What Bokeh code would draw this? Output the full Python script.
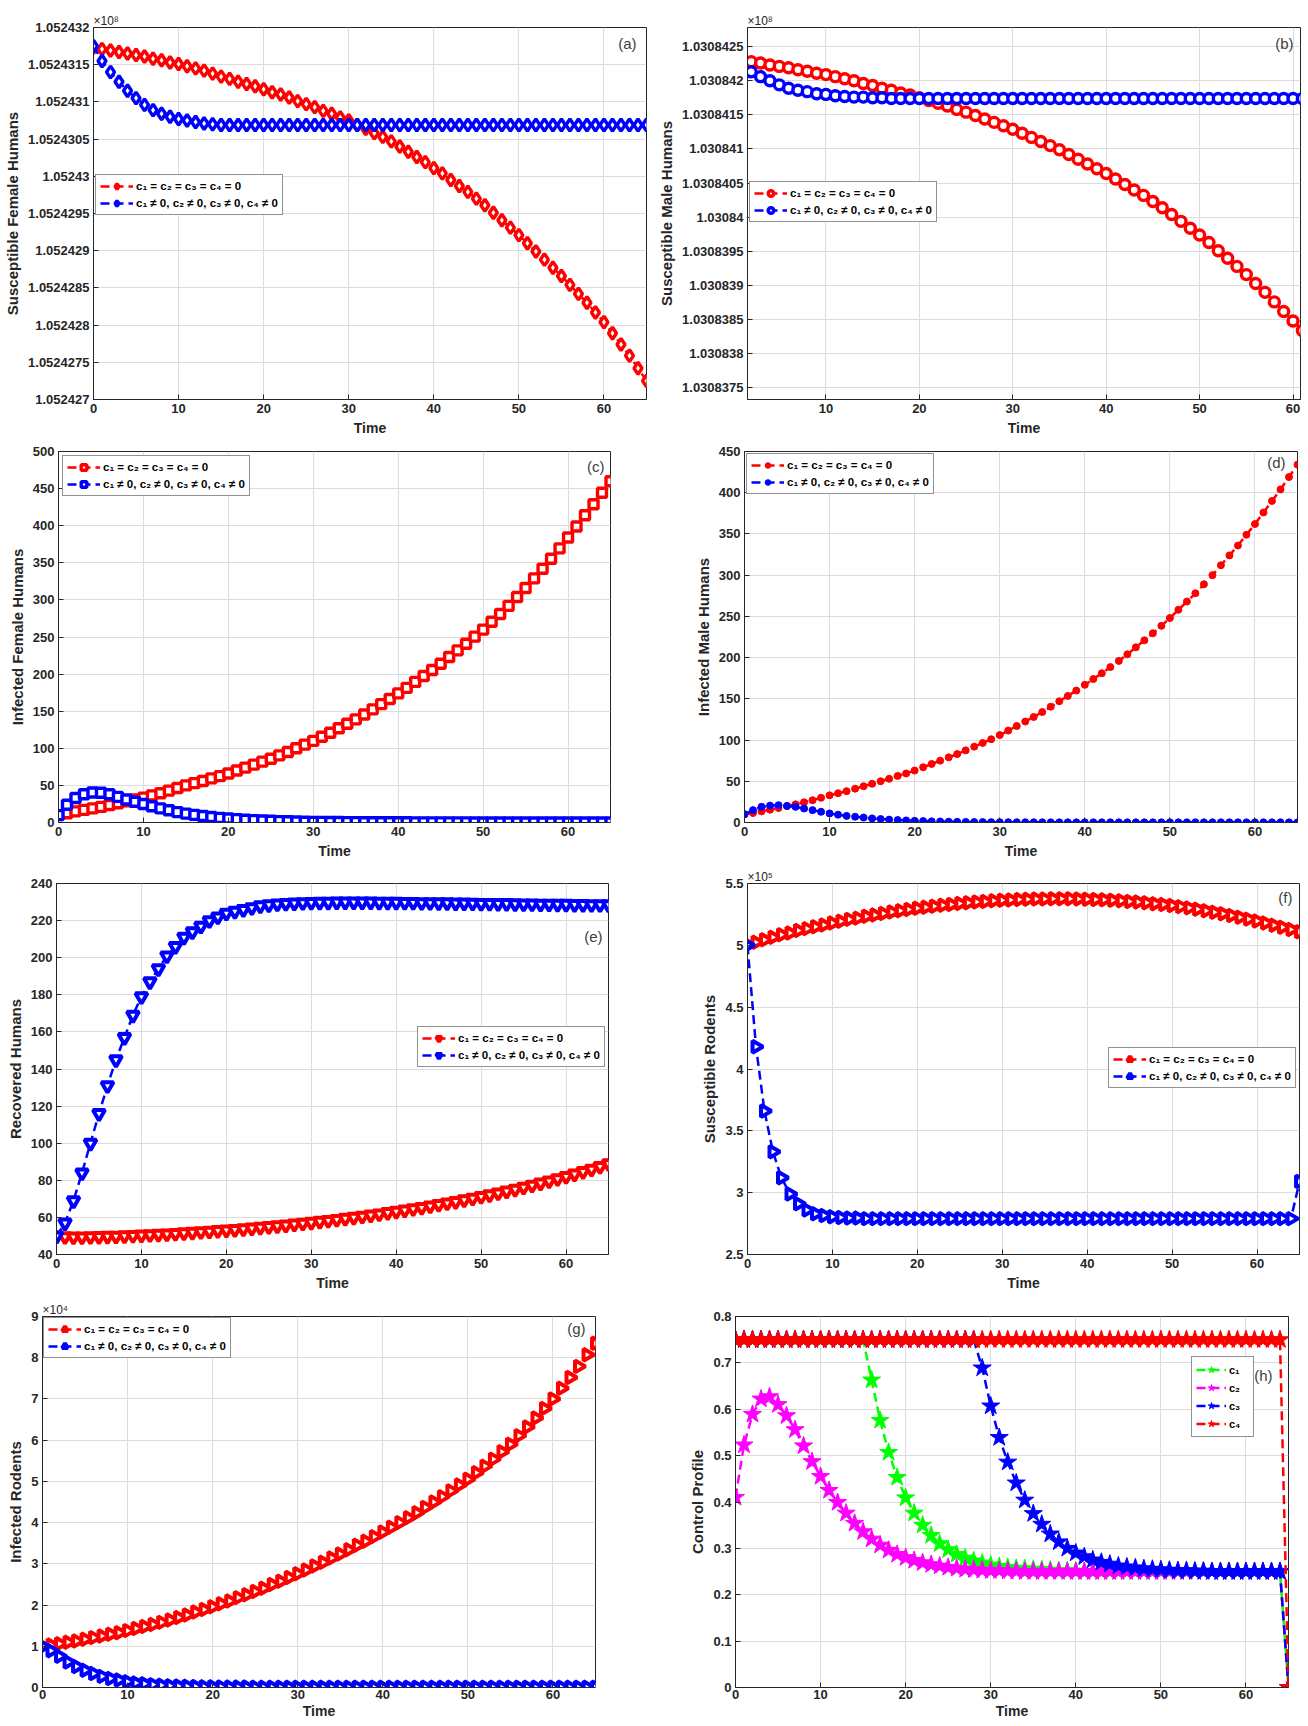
import numpy as np
from bokeh.plotting import figure
from bokeh.models import Range1d, FixedTicker, PrintfTickFormatter, Label
from bokeh.layouts import row, column
from bokeh.embed import file_html
from bokeh.resources import INLINE

# ---------------- data ----------------
T = list(range(66))
TB = list(range(2, 62))
XTICKS = [0, 10, 20, 30, 40, 50, 60]
XTICKS_B = [10, 20, 30, 40, 50, 60]

LEG1 = "c\u2081 = c\u2082 = c\u2083 = c\u2084 = 0"
LEG2 = "c\u2081 \u2260 0, c\u2082 \u2260 0, c\u2083 \u2260 0, c\u2084 \u2260 0"
H_LABELS = ["c\u2081", "c\u2082", "c\u2083", "c\u2084"]

# (a) susceptible female humans (x 10^8)
A_TICKS = [1.052427, 1.0524275, 1.052428, 1.0524285, 1.052429, 1.0524295,
           1.05243, 1.0524305, 1.052431, 1.0524315, 1.052432]
a_red = [1.05243173, 1.05243171, 1.05243169, 1.05243167, 1.05243165, 1.05243163, 1.05243161, 1.05243158, 1.05243156, 1.05243153,
         1.05243151, 1.05243148, 1.05243145, 1.05243142, 1.05243138, 1.05243134, 1.05243131, 1.05243127, 1.05243124, 1.05243121,
         1.05243117, 1.05243113, 1.05243110, 1.05243106, 1.05243101, 1.05243097, 1.05243093, 1.05243088, 1.05243084, 1.05243079,
         1.05243075, 1.05243069, 1.05243064, 1.05243058, 1.05243053, 1.05243047, 1.05243040, 1.05243033, 1.05243026, 1.05243019,
         1.05243011, 1.05243004, 1.05242995, 1.05242987, 1.05242979, 1.05242970, 1.05242961, 1.05242951, 1.05242941, 1.05242931,
         1.05242921, 1.05242910, 1.05242899, 1.05242888, 1.05242877, 1.05242866, 1.05242854, 1.05242842, 1.05242830, 1.05242817,
         1.05242804, 1.05242789, 1.05242774, 1.05242759, 1.05242742, 1.05242725]
a_blue = [1.05243175, 1.05243155, 1.05243140, 1.05243127, 1.05243115, 1.05243105, 1.05243096, 1.05243089, 1.05243084, 1.05243080,
          1.05243077, 1.05243075, 1.05243073, 1.05243071, 1.05243070] + [1.05243069] * 51

# (b) susceptible male humans (x 10^8)
B_TICKS = [1.0308375, 1.030838, 1.0308385, 1.030839, 1.0308395, 1.03084,
           1.0308405, 1.030841, 1.0308415, 1.030842, 1.0308425]
b_red = [1.03084228, 1.03084226, 1.03084223, 1.03084221, 1.03084219, 1.03084216, 1.03084214, 1.03084211, 1.03084209, 1.03084206,
         1.03084203, 1.03084200, 1.03084196, 1.03084193, 1.03084189, 1.03084186, 1.03084182, 1.03084179, 1.03084175, 1.03084171,
         1.03084167, 1.03084163, 1.03084158, 1.03084154, 1.03084149, 1.03084144, 1.03084139, 1.03084134, 1.03084129, 1.03084123,
         1.03084117, 1.03084111, 1.03084105, 1.03084099, 1.03084092, 1.03084085, 1.03084078, 1.03084071, 1.03084064, 1.03084056,
         1.03084048, 1.03084040, 1.03084032, 1.03084023, 1.03084014, 1.03084004, 1.03083994, 1.03083984, 1.03083974, 1.03083963,
         1.03083951, 1.03083940, 1.03083928, 1.03083916, 1.03083903, 1.03083890, 1.03083876, 1.03083862, 1.03083848, 1.03083834]
b_blue = [1.03084213, 1.03084206, 1.03084200, 1.03084194, 1.03084189, 1.03084186, 1.03084184, 1.03084181, 1.03084180, 1.03084178,
          1.03084177, 1.03084176, 1.03084176, 1.03084175, 1.03084175] + [1.03084174] * 45

# (c) infected female humans
C_TICKS = [0, 50, 100, 150, 200, 250, 300, 350, 400, 450, 500]
c_red = [10, 12.5, 15, 17, 19, 21, 23.5, 26, 28.5, 31,
         33.5, 36.5, 39.5, 43, 46.5, 50, 53, 56, 59.5, 62.5,
         66, 70, 74, 78, 82, 86, 90.5, 95, 100, 105,
         110, 115.5, 121, 127, 133, 139, 145.5, 152.5, 159.5, 166.5,
         174, 181.5, 189.5, 197.5, 205.5, 214, 223, 232, 241, 250.5,
         260, 270.5, 281, 292, 304, 316, 329, 342, 355.5, 369.5,
         384, 399, 414, 429, 444.5, 460]
c_blue = [10, 24, 33, 38, 40.5, 40, 38, 34.5, 31, 28,
          25, 22, 19, 16.5, 14, 12, 10.3, 8.8, 7.5, 6.3,
          5.3, 4.5, 3.8, 3.2, 2.7, 2.3, 1.9, 1.6, 1.3, 1.1,
          0.9, 0.8, 0.7, 0.6, 0.5, 0.45, 0.4, 0.35, 0.3, 0.3,
          0.25, 0.25, 0.2, 0.2, 0.2, 0.15, 0.15, 0.15, 0.15, 0.1,
          0.1, 0.1, 0.1, 0.1, 0.1, 0.1, 0.1, 0.1, 0.1, 0.1,
          0.1, 0.1, 0.1, 0.1, 0.1, 0.1]

# (d) infected male humans
D_TICKS = [0, 50, 100, 150, 200, 250, 300, 350, 400, 450]
d_red = [10, 11.5, 13.5, 15.5, 17.5, 20, 22, 24.5, 27, 30,
         33, 35.5, 38, 41, 44, 47, 50, 53, 56.5, 59.5,
         63, 67, 71, 75, 79, 83, 87.5, 92, 96.5, 101,
         106, 111.5, 117, 122.5, 128, 134, 140.5, 147, 153.5, 160,
         167, 174, 181, 188.5, 196, 204, 212.5, 221, 229.5, 238.5,
         248, 258, 268, 278, 289, 300, 312, 324, 336, 349,
         362, 376, 390, 404, 419, 434]
d_blue = [10, 15, 19, 20.5, 21, 20, 19, 17, 15, 13,
          11, 9.5, 8, 7, 6, 5, 4.2, 3.5, 3, 2.5,
          2, 1.7, 1.4, 1.2, 1, 0.8, 0.7, 0.6, 0.5, 0.45,
          0.4, 0.35, 0.3, 0.3, 0.25, 0.25, 0.2, 0.2, 0.2, 0.2] + [0.2] * 26

# (e) recovered humans
E_TICKS = [40, 60, 80, 100, 120, 140, 160, 180, 200, 220, 240]
e_red = [50, 49.6, 49.5, 49.5, 49.6, 49.7, 49.8, 49.9, 50.1, 50.3,
         50.5, 50.7, 50.9, 51.1, 51.4, 51.7, 52, 52.3, 52.6, 52.9,
         53.2, 53.5, 53.9, 54.3, 54.7, 55.1, 55.5, 55.9, 56.4, 56.9,
         57.4, 57.9, 58.4, 58.9, 59.5, 60.1, 60.7, 61.3, 61.9, 62.6,
         63.3, 64, 64.7, 65.4, 66.2, 67, 67.8, 68.6, 69.5, 70.4,
         71.3, 72.2, 73.2, 74.2, 75.2, 76.3, 77.4, 78.5, 79.7, 80.9,
         82.1, 83.4, 84.7, 86, 87.5, 89]
e_blue = [50, 57, 69, 84, 100, 116, 131, 145, 157, 169,
          179, 187, 194, 201, 206, 211, 214, 217, 220, 222,
          224, 225, 226, 227, 228, 228.5, 229, 229.3, 229.5, 229.7,
          229.8, 229.9, 229.9, 230, 230, 230, 230, 230, 229.9, 229.9,
          229.9, 229.8, 229.8, 229.7, 229.7, 229.6, 229.6, 229.5, 229.5, 229.4,
          229.3, 229.3, 229.2, 229.2, 229.1, 229, 229, 228.9, 228.9, 228.8,
          228.8, 228.7, 228.7, 228.6, 228.6, 228.5]

# (f) susceptible rodents (x 10^5)
F_TICKS = [2.5, 3, 3.5, 4, 4.5, 5, 5.5]
f_red = [5.005, 5.025, 5.045, 5.065, 5.085, 5.10, 5.12, 5.135, 5.15, 5.165,
         5.18, 5.195, 5.21, 5.22, 5.235, 5.245, 5.258, 5.27, 5.28, 5.29,
         5.30, 5.308, 5.316, 5.324, 5.331, 5.338, 5.344, 5.35, 5.355, 5.36,
         5.364, 5.367, 5.37, 5.372, 5.374, 5.375, 5.376, 5.376, 5.376, 5.375,
         5.373, 5.371, 5.368, 5.364, 5.36, 5.355, 5.35, 5.344, 5.337, 5.33,
         5.322, 5.313, 5.303, 5.292, 5.28, 5.268, 5.255, 5.241, 5.227, 5.212,
         5.196, 5.18, 5.163, 5.146, 5.128, 5.11]
f_blue = [5.0, 4.18, 3.66, 3.33, 3.12, 2.99, 2.91, 2.86, 2.83, 2.815,
          2.805, 2.8, 2.795, 2.795] + [2.79] * 51 + [3.09]

# (g) infected rodents (x 10^4)
G_TICKS = [0, 1, 2, 3, 4, 5, 6, 7, 8, 9]
g_red = [1.00, 1.03, 1.06, 1.10, 1.13, 1.17, 1.21, 1.25, 1.29, 1.33,
         1.38, 1.43, 1.48, 1.53, 1.58, 1.64, 1.70, 1.76, 1.83, 1.89,
         1.96, 2.03, 2.10, 2.18, 2.25, 2.33, 2.41, 2.50, 2.58, 2.67,
         2.76, 2.85, 2.95, 3.04, 3.14, 3.24, 3.34, 3.45, 3.55, 3.66,
         3.77, 3.89, 4.00, 4.12, 4.24, 4.37, 4.50, 4.63, 4.77, 4.91,
         5.05, 5.21, 5.37, 5.54, 5.72, 5.90, 6.11, 6.32, 6.54, 6.77,
         7.00, 7.26, 7.52, 7.79, 8.07, 8.35]
g_blue = [1.0, 0.89, 0.76, 0.62, 0.51, 0.42, 0.34, 0.27, 0.22, 0.18,
          0.14, 0.11, 0.09, 0.07, 0.055, 0.045, 0.035, 0.03, 0.025, 0.02,
          0.018, 0.015, 0.012, 0.01, 0.01, 0.008, 0.008, 0.006, 0.006, 0.005] + [0.005] * 36

# (h) control profile
H_TICKS = [0, 0.1, 0.2, 0.3, 0.4, 0.5, 0.6, 0.7, 0.8]
h_c1 = [0.75] * 16 + [0.663, 0.576, 0.507, 0.453, 0.409, 0.376, 0.35, 0.328, 0.31, 0.297,
                      0.287, 0.279, 0.273, 0.268, 0.264, 0.261, 0.259, 0.257, 0.256, 0.255,
                      0.254, 0.253, 0.252, 0.252, 0.251] + [0.25] * 24 + [0.0]
h_c2 = [0.41, 0.523, 0.589, 0.622, 0.627, 0.61, 0.586, 0.556, 0.521, 0.487,
        0.455, 0.425, 0.399, 0.376, 0.354, 0.336, 0.32, 0.307, 0.296, 0.287,
        0.28, 0.274, 0.269, 0.265, 0.262, 0.259, 0.257, 0.255, 0.254, 0.253,
        0.252, 0.252, 0.251, 0.251] + [0.25] * 31 + [0.0]
h_c3 = [0.75] * 29 + [0.689, 0.607, 0.539, 0.486, 0.441, 0.404, 0.375, 0.352, 0.331, 0.314,
                      0.3, 0.29, 0.282, 0.275, 0.27, 0.266, 0.262, 0.26, 0.258, 0.256,
                      0.255, 0.254, 0.253, 0.252, 0.252, 0.251, 0.251] + [0.25] * 9 + [0.0]
h_c4 = [0.75] * 65 + [0.0]

# ---------------- styling ----------------
FONT = "Liberation Sans"
DARK = "#262626"
RED, BLUE, GREEN, MAGENTA = "#ff0000", "#0000ff", "#00ff00", "#ff00ff"
DASH = "9 5"


def panel(width, height, mbl, mbr, mbt, mbb, xr, yr, xticks, yticks, yfmt, ylabel, tag, tag_dx, tag_dy, title=None):
    p = figure(width=width, height=height, x_range=Range1d(*xr), y_range=Range1d(*yr),
               output_backend="svg", toolbar_location=None,
               min_border_left=mbl, min_border_right=mbr, min_border_top=mbt, min_border_bottom=mbb)
    if title:
        p.title.text = title
        p.title.align = "left"
        p.title.text_font = FONT
        p.title.text_font_size = "12px"
        p.title.text_font_style = "normal"
        p.title.text_color = DARK
        p.title.standoff = 0
        p.title.offset = 0
    p.xaxis.ticker = FixedTicker(ticks=xticks)
    p.yaxis.ticker = FixedTicker(ticks=yticks)
    p.yaxis.formatter = PrintfTickFormatter(format=yfmt)
    p.xaxis.formatter = PrintfTickFormatter(format="%g")
    p.xaxis.axis_label = "Time"
    p.yaxis.axis_label = ylabel
    for ax in (p.xaxis[0], p.yaxis[0]):
        ax.major_label_text_font = FONT
        ax.major_label_text_font_size = "13px"
        ax.major_label_text_font_style = "bold"
        ax.major_label_text_color = DARK
        ax.axis_label_text_font = FONT
        ax.axis_label_text_font_style = "bold"
        ax.axis_label_text_color = DARK
        ax.major_tick_in = 5
        ax.major_tick_out = 0
        ax.minor_tick_line_color = None
        ax.axis_line_color = DARK
        ax.major_tick_line_color = DARK
        ax.major_label_standoff = 4
        ax.axis_label_standoff = 4
    p.xaxis.axis_label_text_font_size = "14px"
    p.yaxis.axis_label_text_font_size = "15px"
    p.grid.grid_line_color = "#dcdcdc"
    p.outline_line_color = DARK
    p.outline_line_alpha = 1
    fw = width - mbl - mbr
    fh = height - mbt - mbb
    p.add_layout(Label(x=fw - tag_dx, y=fh - tag_dy, x_units="screen", y_units="screen", text=tag,
                       text_align="right", text_baseline="middle", text_font=FONT,
                       text_font_size="15px", text_color="#404040"))
    return p


def series(p, x, y, color, label, marker, size, filled, angle=0.0, lw=3.4):
    p.line(x, y, line_color=color, line_width=2.5, line_dash=DASH, legend_label=label)
    if filled:
        p.scatter(x, y, marker=marker, size=size, fill_color=color, line_color=color,
                  line_width=1, angle=angle, legend_label=label)
    else:
        p.scatter(x, y, marker=marker, size=size, fill_color="white", line_color=color,
                  line_width=lw, angle=angle, legend_label=label)


def style_legend(p, location, margin=0, label_size="11.5px", glyph_width=33, row_h=14, spacing=3):
    lg = p.legend[0]
    lg.location = location
    lg.margin = margin
    lg.label_text_font = FONT
    lg.label_text_font_size = label_size
    lg.label_text_font_style = "bold"
    lg.label_text_color = "#000000"
    lg.glyph_width = glyph_width
    lg.glyph_height = row_h
    lg.label_height = row_h
    lg.spacing = spacing
    lg.padding = 4
    lg.label_standoff = 3
    lg.border_line_color = DARK
    lg.border_line_width = 1
    lg.background_fill_alpha = 1


W = 654
# row 1: height 442
pa = panel(W, 442, 93, 8, 27, 43, (0, 65), (1.052427, 1.052432), XTICKS, A_TICKS, "%.8g",
           "Susceptible Female Humans", "(a)", 10, 16, title="\u00d710\u2078")
series(pa, T, a_red, RED, LEG1, "diamond", 12, False)
series(pa, T, a_blue, BLUE, LEG2, "diamond", 12, False)
style_legend(pa, (2, 184))

pb = panel(W, 442, 93, 8, 27, 43, (1.6, 60.8), (1.03083733, 1.03084278), XTICKS_B, B_TICKS, "%.8g",
           "Susceptible Male Humans", "(b)", 7, 16, title="\u00d710\u2078")
series(pb, TB, b_red, RED, LEG1, "circle", 10, False)
series(pb, TB, b_blue, BLUE, LEG2, "circle", 10, False)
style_legend(pb, (2, 177))

# row 2: height 424
pc = panel(W, 424, 58, 44, 9, 43, (0, 65), (0, 500), XTICKS, C_TICKS, "%g",
           "Infected Female Humans", "(c)", 6, 16)
series(pc, T, c_red, RED, LEG1, "square", 9, False)
series(pc, T, c_blue, BLUE, LEG2, "square", 9, False)
style_legend(pc, "top_left", margin=4)

pd_ = panel(W, 424, 90, 11, 6, 44, (0, 65), (0, 450), XTICKS, D_TICKS, "%g",
            "Infected Male Humans", "(d)", 12, 14)
series(pd_, T, d_red, RED, LEG1, "circle", 7, True)
series(pd_, T, d_blue, BLUE, LEG2, "circle", 7, True)
style_legend(pd_, "top_left", margin=2)

# row 3: height 434
pe = panel(W, 434, 56, 46, 16, 43, (0, 65), (40, 240), XTICKS, E_TICKS, "%g",
           "Recovered Humans", "(e)", 6, 57)
series(pe, T, e_red, RED, LEG1, "inverted_triangle", 12, False, lw=4)
series(pe, T, e_blue, BLUE, LEG2, "inverted_triangle", 12, False, lw=4)
style_legend(pe, (361, 187))

pf = panel(W, 434, 93, 9, 17, 46, (0, 65), (2.5, 5.5), XTICKS, F_TICKS, "%g",
           "Susceptible Rodents", "(f)", 7, 14, title="\u00d710\u2075")
series(pf, T, f_red, RED, LEG1, "triangle", 12, False, angle=-np.pi / 2, lw=4)
series(pf, T, f_blue, BLUE, LEG2, "triangle", 12, False, angle=-np.pi / 2, lw=4)
style_legend(pf, (361, 166))

# row 4: height 424
pg = panel(W, 424, 42, 59, 14, 37, (0, 65), (0, 9), XTICKS, G_TICKS, "%g",
           "Infected Rodents", "(g)", 10, 14, title="\u00d710\u2074")
series(pg, T, g_red, RED, LEG1, "triangle", 12, False, angle=-np.pi / 2, lw=4)
series(pg, T, g_blue, BLUE, LEG2, "triangle", 12, False, angle=-np.pi / 2, lw=4)
style_legend(pg, "top_left", margin=1)

ph = panel(W, 424, 81, 20, 13, 37, (0, 65), (0, 0.8), XTICKS, H_TICKS, "%g",
           "Control Profile", "(h)", 16, 62)
for vals, col, lab in ((h_c1, GREEN, H_LABELS[0]), (h_c2, MAGENTA, H_LABELS[1]),
                       (h_c3, BLUE, H_LABELS[2]), (h_c4, RED, H_LABELS[3])):
    series(ph, T, vals, col, lab, "star", 19, True)
style_legend(ph, (456, 250), label_size="11px", glyph_width=30, row_h=17, spacing=1)

for p_ in (pg, ph):
    p_.xaxis.major_label_standoff = 2
    p_.xaxis.axis_label_standoff = 1

layout = column(row(pa, pb), row(pc, pd_), row(pe, pf), row(pg, ph))
open("out.html", "w").write(file_html(layout, INLINE))
